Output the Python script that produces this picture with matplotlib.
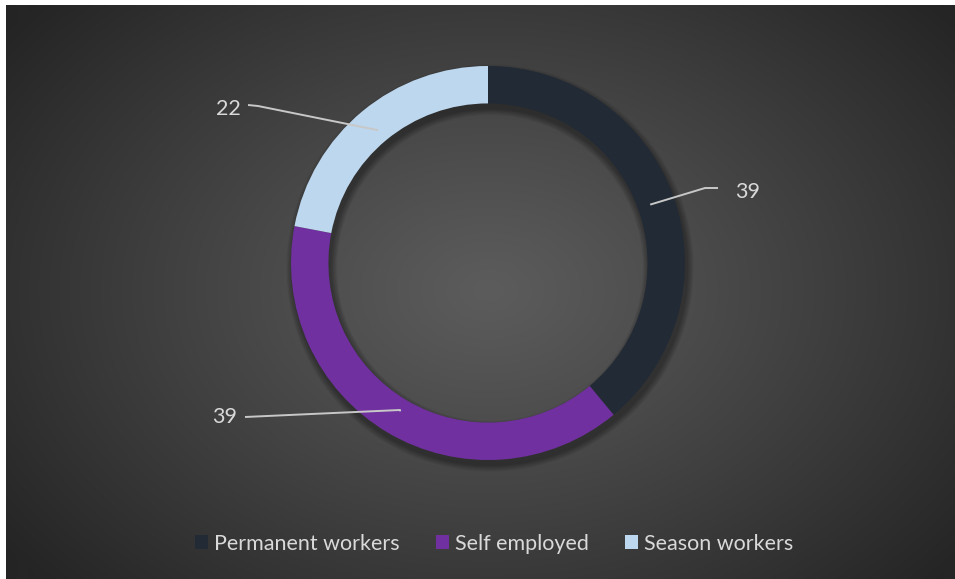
import numpy as np
import matplotlib
matplotlib.use("Agg")
import matplotlib.pyplot as plt
from matplotlib.patches import Patch, Wedge

plt.rcParams['font.family'] = ['Lato', 'DejaVu Sans']

categories = ["Permanent workers", "Self employed", "Season workers"]
values = [39, 39, 22]
colors = ["#222a35", "#7030a0", "#bdd7ee"]
text_color = "#d9d9d9"
line_color = "#c8c8c8"

W, H = 955, 579
fig = plt.figure(figsize=(W / 100, H / 100), dpi=100)
fig.patch.set_facecolor("white")

# radial gradient backdrop (inset leaves thin white margin top/left)
bg = fig.add_axes([6 / W, 0, 1 - 6 / W, 1 - 5 / H])
bg.set_axis_off()
yy, xx = np.mgrid[0:H - 5, 0:W - 6]
cx, cy = 482, 285
d = np.sqrt(((xx - cx) / 600.0) ** 2 + ((yy - cy) / 430.0) ** 2)
d = np.clip(d, 0, 1)
c0, c1 = 0x5c / 255, 0x25 / 255
v = c0 - (c0 - c1) * d ** 1.1
img = np.dstack([v, v, v])
bg.imshow(img, aspect="auto", extent=[0, 1, 0, 1], origin="upper")

# main axes in pixel units (y up)
ax = fig.add_axes([0, 0, 1, 1])
ax.set_xlim(0, W)
ax.set_ylim(0, H)
ax.set_axis_off()
ax.patch.set_alpha(0)

center = (488, H - 263)
R = 197
ring = 0.19

# soft drop shadow under the ring
for k in range(8):
    sh = Wedge((center[0] + 2, center[1] - 5), R + 1 + k * 0.8, 0, 360,
               width=R * ring + 2 + k * 1.6, facecolor="black",
               edgecolor="none", alpha=0.045)
    ax.add_patch(sh)

wedges, _ = ax.pie(values, colors=colors, startangle=90, counterclock=False,
                   radius=R, center=center,
                   wedgeprops=dict(width=R * ring, edgecolor="none"))
ax.set_xlim(0, W)
ax.set_ylim(0, H)
ax.set_aspect("auto")

# leader lines and value labels
elbows = [((705, H - 188), (718, H - 188), (748, H - 192)),
          ((400, H - 410), (245, H - 417), (225, H - 417)),
          ((258, H - 106), (248, H - 105), (228, H - 109))]
for w, val, (elb, end, txt) in zip(wedges, values, elbows):
    mid = np.deg2rad((w.theta1 + w.theta2) / 2)
    r_anchor = R * 0.875
    ax0 = center[0] + r_anchor * np.cos(mid)
    ay0 = center[1] + r_anchor * np.sin(mid)
    ax.plot([ax0, elb[0], end[0]], [ay0, elb[1], end[1]],
            color=line_color, lw=1.4, solid_capstyle="butt")
    ax.text(txt[0], txt[1], f"{val}", color=text_color, fontsize=15.5,
            ha="center", va="center")

handles = [Patch(facecolor=c, edgecolor="none") for c in colors]
fig.legend(handles, categories, loc="center", ncol=3, frameon=False,
           bbox_to_anchor=(494 / W, 1 - 544 / H), fontsize=15.5,
           labelcolor=text_color, handlelength=0.62, handleheight=0.62,
           handletextpad=0.25, columnspacing=1.7)

fig.savefig("out.png", dpi=100, facecolor=fig.get_facecolor())
